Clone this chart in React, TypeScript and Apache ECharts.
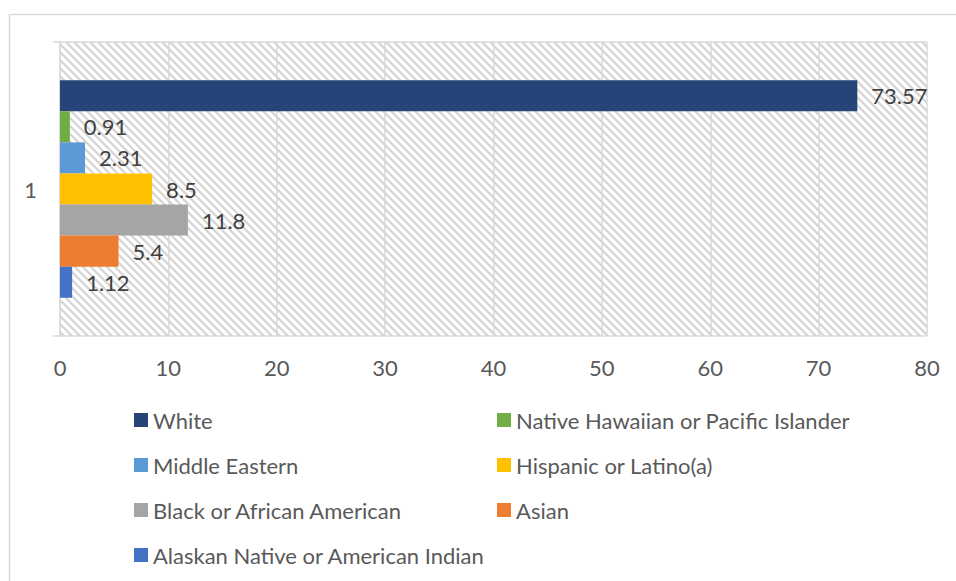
import React, { useEffect, useRef } from "react";
import * as echarts from "echarts";

const categories = ["1"];
const seriesNames = [
  "White",
  "Native Hawaiian or Pacific Islander",
  "Middle Eastern",
  "Hispanic or Latino(a)",
  "Black or African American",
  "Asian",
  "Alaskan Native or American Indian",
];
const seriesValues = [73.57, 0.91, 2.31, 8.5, 11.8, 5.4, 1.12];
const seriesColors = ["#264478", "#70AD47", "#5B9BD5", "#FFC000", "#A5A5A5", "#ED7D31", "#4472C4"];
const leftLegend = [
  "White",
  "Middle Eastern",
  "Black or African American",
  "Alaskan Native or American Indian",
];
const rightLegend = [
  "Native Hawaiian or Pacific Islander",
  "Hispanic or Latino(a)",
  "Asian",
];
const xTicks = { min: 0, max: 80, interval: 10 };

function makeHatch(): HTMLCanvasElement {
  const c = document.createElement("canvas");
  c.width = 8;
  c.height = 8;
  const ctx = c.getContext("2d")!;
  ctx.fillStyle = "#ffffff";
  ctx.fillRect(0, 0, 8, 8);
  ctx.strokeStyle = "#d4d4d4";
  ctx.lineWidth = 2.2;
  ctx.beginPath();
  ctx.moveTo(-2, -2);
  ctx.lineTo(10, 10);
  ctx.moveTo(-2, 6);
  ctx.lineTo(2, 10);
  ctx.moveTo(6, -2);
  ctx.lineTo(10, 2);
  ctx.stroke();
  return c;
}

export default function App() {
  const ref = useRef<HTMLDivElement>(null);
  useEffect(() => {
    if (!ref.current) return;
    const chart = echarts.init(ref.current, undefined, { renderer: "svg" });
    const font = "Lato";
    const fs = 22;
    const legendCommon = {
      orient: "vertical" as const,
      icon: "rect",
      itemWidth: 14,
      itemHeight: 14,
      itemGap: 23,
      textStyle: { fontFamily: font, fontSize: fs, color: "#595959" },
      selectedMode: false,
      padding: 0,
    };
    chart.setOption({
      animation: false,
      backgroundColor: "#ffffff",
      textStyle: { fontFamily: font },
      graphic: [
        {
          type: "rect",
          shape: { x: 9.5, y: 14.5, width: 960, height: 600 },
          style: { fill: "none", stroke: "#d9d9d9", lineWidth: 1.5 },
          silent: true,
        },
      ],
      grid: {
        left: 60,
        top: 42,
        right: 29,
        bottom: 245,
        show: true,
        borderWidth: 0,
        backgroundColor: { image: makeHatch(), repeat: "repeat" },
      },
      legend: [
        { ...legendCommon, left: 134, top: 409, data: leftLegend },
        { ...legendCommon, left: 497, top: 409, data: rightLegend },
      ],
      xAxis: {
        type: "value",
        min: xTicks.min,
        max: xTicks.max,
        interval: xTicks.interval,
        axisLine: { show: false },
        axisTick: { show: false },
        splitLine: { show: true, lineStyle: { color: "#d9d9d9", width: 1.5 } },
        axisLabel: { fontFamily: font, fontSize: fs, color: "#595959", margin: 20 },
      },
      yAxis: {
        type: "category",
        data: categories,
        axisLine: { show: true, lineStyle: { color: "#d9d9d9", width: 1.5 } },
        axisTick: { show: true, length: 7, lineStyle: { color: "#d9d9d9", width: 1.5 } },
        splitLine: { show: true, lineStyle: { color: "#d9d9d9", width: 1.5 } },
        axisLabel: { fontFamily: font, fontSize: fs, color: "#595959", margin: 23 },
      },
      series: seriesNames.map((name, i) => ({
        name,
        type: "bar",
        data: [seriesValues[i]],
        itemStyle: { color: seriesColors[i] },
        barGap: "0%",
        barCategoryGap: "26%",
        label: {
          show: true,
          position: "right",
          distance: 14,
          fontFamily: font,
          fontSize: fs,
          color: "#404040",
        },
      })),
    });
    return () => chart.dispose();
  }, []);
  return (
    <div
      ref={ref}
      style={{ position: "fixed", left: 0, top: 0, width: 956, height: 581 }}
    />
  );
}
